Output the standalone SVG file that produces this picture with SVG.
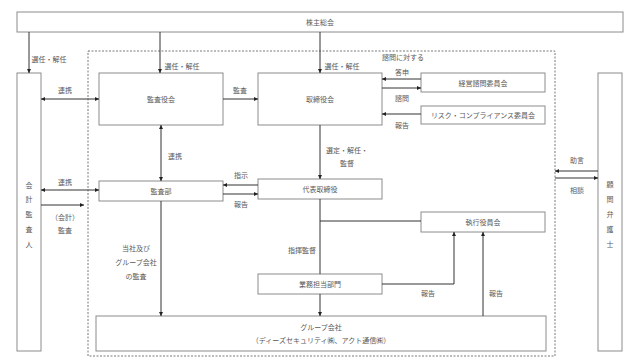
<svg xmlns="http://www.w3.org/2000/svg" width="640" height="363" viewBox="0 0 640 363">
<style>
.box{fill:#fff;stroke:#8c8c8c;stroke-width:1}
.t{font-family:"Noto Sans CJK JP","Noto Sans CJK SC",sans-serif;font-size:7px;fill:#595959;text-anchor:middle;dominant-baseline:central}
.ln{fill:none;stroke:#333;stroke-width:1}
.a{marker-end:url(#ah)}
.d{marker-start:url(#ah);marker-end:url(#ah)}
</style>
<defs>
<marker id="ah" viewBox="0 0 6 6" refX="6" refY="3" markerWidth="4" markerHeight="4" markerUnits="userSpaceOnUse" orient="auto-start-reverse"><path d="M0,0L6,3L0,6z" fill="#222"/></marker>
</defs>
<rect width="640" height="363" fill="#fff"/>
<rect x="88" y="51" width="467" height="305" fill="none" stroke="#555" stroke-width="0.8" stroke-dasharray="2,1.5"/>

<g id="shareholders"><rect class="box" x="17" y="12" width="606" height="20"/><text class="t" x="320" y="22">株主総会</text></g>
<g id="auditor"><rect class="box" x="17" y="73" width="24" height="278"/><text class="t"><tspan x="29" y="185">会</tspan><tspan x="29" y="199">計</tspan><tspan x="29" y="214">監</tspan><tspan x="29" y="229">査</tspan><tspan x="29" y="244">人</tspan></text></g>
<g id="lawyer"><rect class="box" x="598" y="73" width="24" height="278"/><text class="t"><tspan x="610" y="184">顧</tspan><tspan x="610" y="199">問</tspan><tspan x="610" y="214">弁</tspan><tspan x="610" y="229">護</tspan><tspan x="610" y="244">士</tspan></text></g>
<g id="kansayakukai"><rect class="box" x="99" y="73" width="124" height="52"/><text class="t" x="161" y="99">監査役会</text></g>
<g id="torishimariyakukai"><rect class="box" x="258" y="73" width="124" height="52"/><text class="t" x="320" y="99">取締役会</text></g>
<g id="keiei"><rect class="box" x="421" y="73" width="124" height="19"/><text class="t" x="483" y="82.5">経営諮問委員会</text></g>
<g id="risk"><rect class="box" x="421" y="106" width="124" height="18"/><text class="t" x="483" y="115">リスク・コンプライアンス委員会</text></g>
<g id="kansabu"><rect class="box" x="99" y="181" width="124" height="20"/><text class="t" x="161" y="191">監査部</text></g>
<g id="daihyo"><rect class="box" x="258" y="179" width="124" height="20"/><text class="t" x="320" y="189">代表取締役</text></g>
<g id="shikko"><rect class="box" x="421" y="212" width="124" height="20"/><text class="t" x="483" y="222">執行役員会</text></g>
<g id="gyomu"><rect class="box" x="258" y="274" width="124" height="20"/><text class="t" x="320" y="284">業務担当部門</text></g>
<g id="group"><rect class="box" x="96" y="316" width="450" height="35"/><text class="t" x="321" y="327">グループ会社</text><text class="t" x="321" y="340">（ディーズセキュリティ㈱、アクト通信㈱）</text></g>

<g id="connectors">
<line class="ln a" x1="29" y1="32" x2="29" y2="73"/>
<line class="ln a" x1="160" y1="32" x2="160" y2="73"/>
<line class="ln a" x1="320" y1="32" x2="320" y2="73"/>
<line class="ln d" x1="41" y1="99" x2="99" y2="99"/>
<line class="ln a" x1="223" y1="99" x2="258" y2="99"/>
<line class="ln a" x1="421" y1="79" x2="382" y2="79"/>
<line class="ln a" x1="382" y1="88" x2="421" y2="88"/>
<line class="ln a" x1="421" y1="114" x2="382" y2="114"/>
<line class="ln d" x1="161" y1="125" x2="161" y2="181"/>
<line class="ln a" x1="320" y1="125" x2="320" y2="179"/>
<line class="ln a" x1="258" y1="185" x2="223" y2="185"/>
<line class="ln a" x1="223" y1="194" x2="258" y2="194"/>
<line class="ln d" x1="41" y1="190" x2="99" y2="190"/>
<line class="ln a" x1="41" y1="205" x2="84" y2="205"/>
<line class="ln a" x1="598" y1="171" x2="555" y2="171"/>
<line class="ln a" x1="555" y1="178" x2="598" y2="178"/>
<line class="ln" x1="320" y1="199" x2="320" y2="274"/>
<line class="ln" x1="320" y1="221" x2="421" y2="221"/>
<line class="ln a" x1="320" y1="294" x2="320" y2="316"/>
<line class="ln a" x1="161" y1="201" x2="161" y2="316"/>
<polyline class="ln a" points="382,284 454,284 454,232"/>
<line class="ln a" x1="483" y1="316" x2="483" y2="232"/>
</g>

<g id="labels">
<text class="t" x="49" y="59">選任・解任</text>
<text class="t" x="182" y="66">選任・解任</text>
<text class="t" x="342" y="66">選任・解任</text>
<text class="t" x="65" y="90">連携</text>
<text class="t" x="240" y="90">監査</text>
<text class="t" x="403" y="57">諮問に対する</text>
<text class="t" x="402" y="72">答申</text>
<text class="t" x="402" y="98">諮問</text>
<text class="t" x="402" y="125">報告</text>
<text class="t" x="175" y="156">連携</text>
<text class="t" x="347" y="150">選定・解任・</text>
<text class="t" x="347" y="163">監督</text>
<text class="t" x="241" y="175">指示</text>
<text class="t" x="241" y="204">報告</text>
<text class="t" x="65" y="182">連携</text>
<text class="t" x="65" y="217">（会計）</text>
<text class="t" x="65" y="230">監査</text>
<text class="t" x="577" y="160">助言</text>
<text class="t" x="577" y="190">相談</text>
<text class="t" x="302" y="250">指揮監督</text>
<text class="t" x="136" y="248">当社及び</text>
<text class="t" x="136" y="262">グループ会社</text>
<text class="t" x="136" y="276">の監査</text>
<text class="t" x="428" y="293">報告</text>
<text class="t" x="496" y="293">報告</text>
</g>
</svg>
